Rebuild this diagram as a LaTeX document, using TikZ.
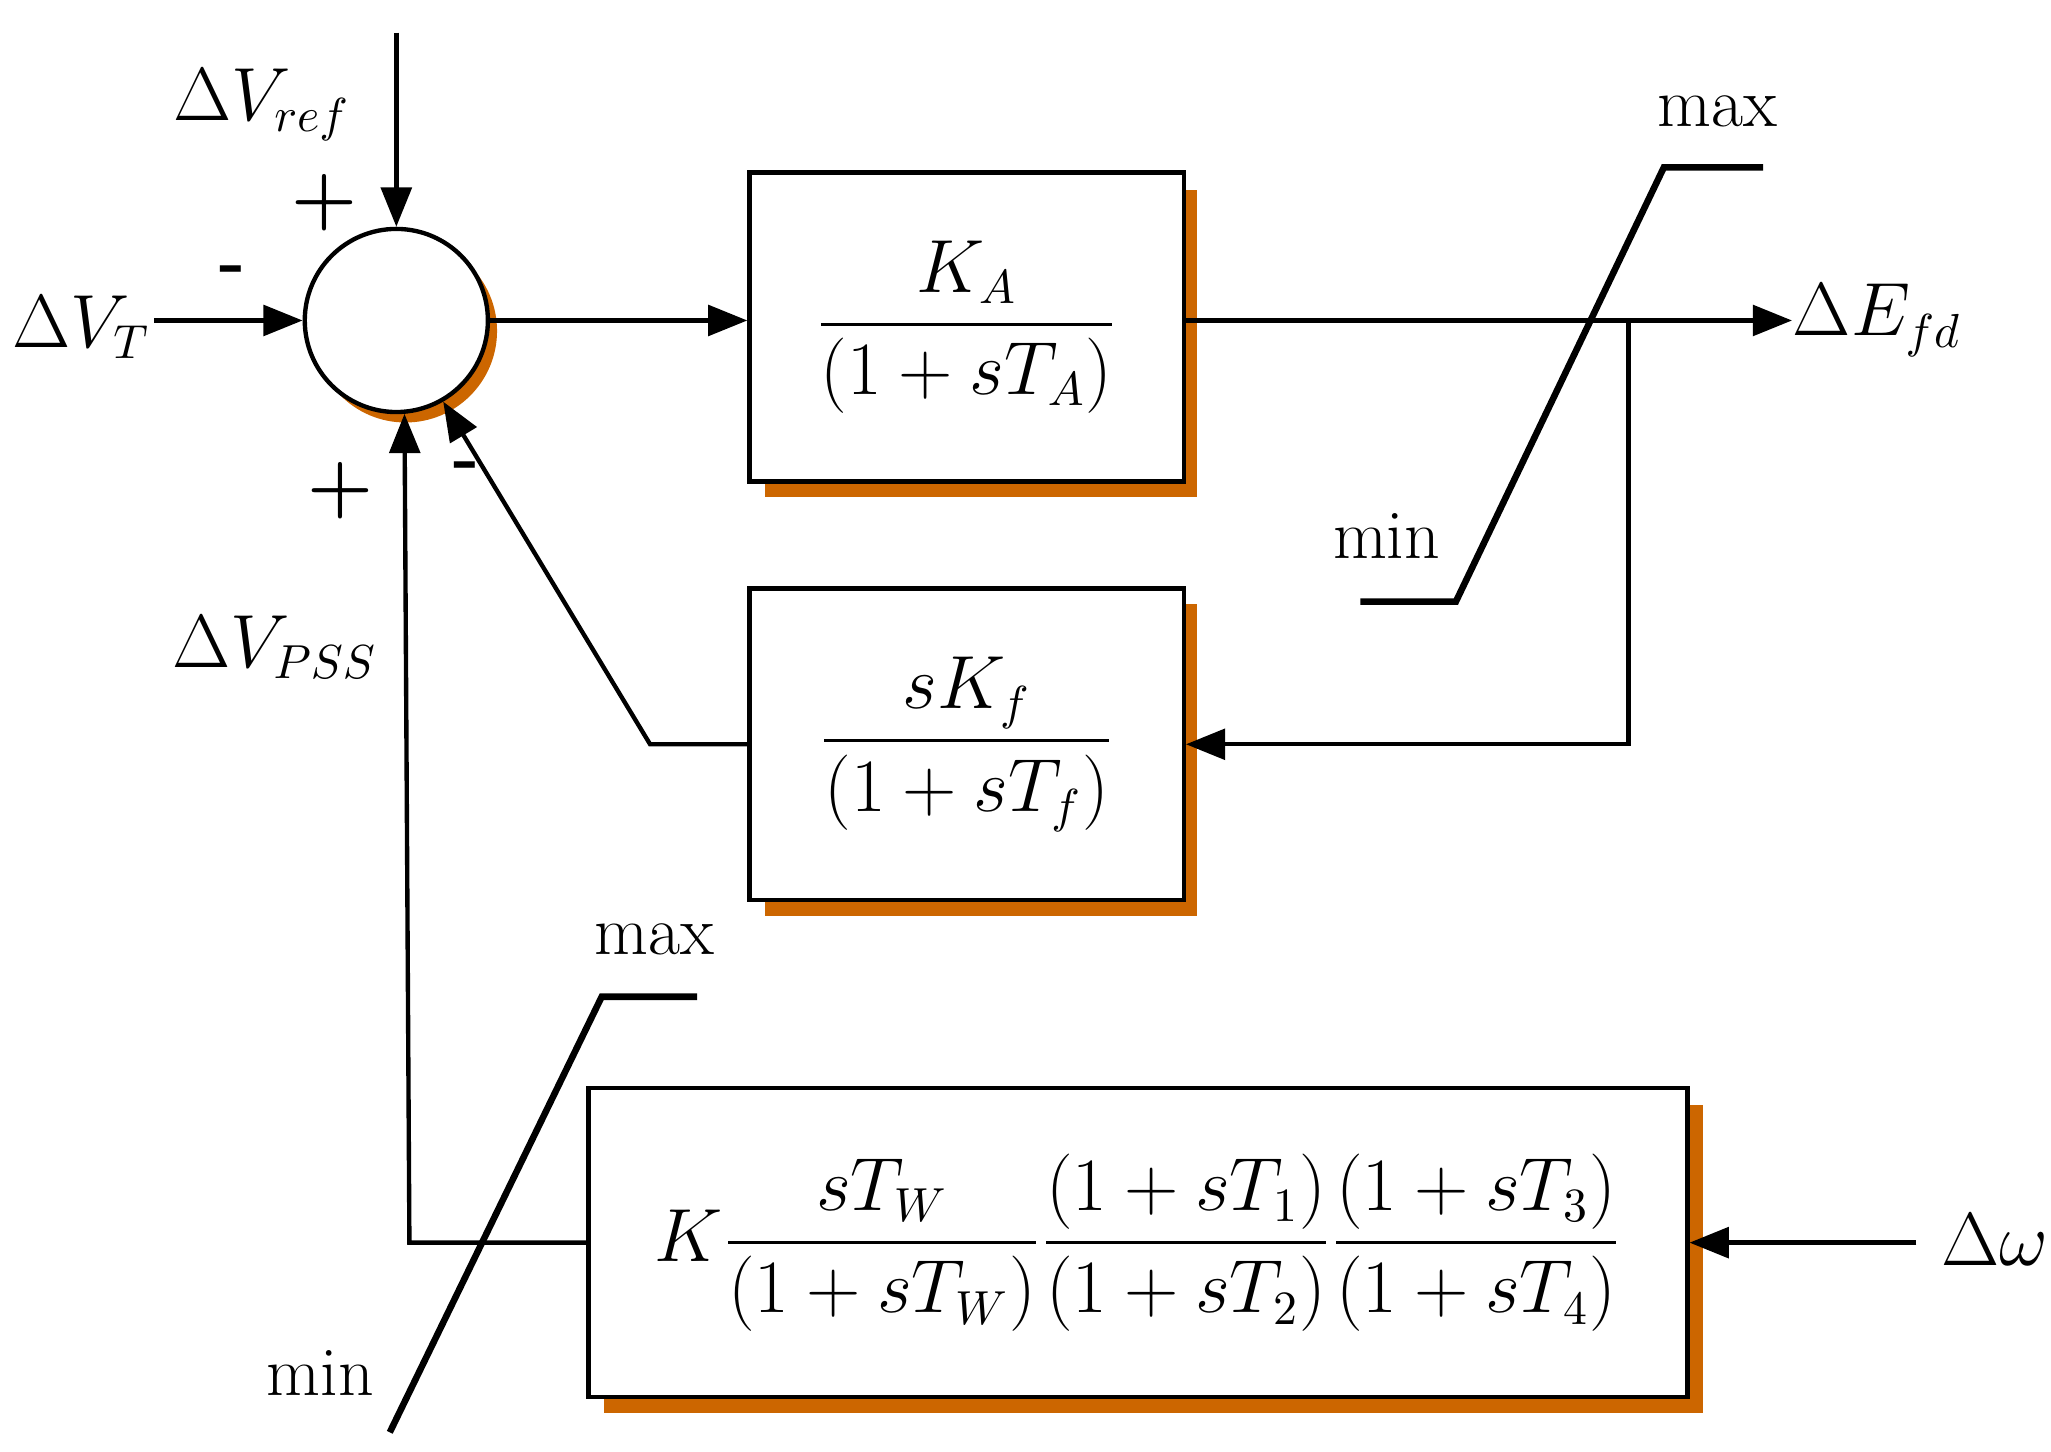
\documentclass[tikz,border=0pt]{standalone}
\usepackage{amsmath}
\usetikzlibrary{arrows.meta,positioning}
\tikzset{
  blk/.style={draw=black, line width=1pt, fill=white, inner sep=0pt},
  shd/.style={fill=orange!80!black},
  sig/.style={line width=1pt, -{Triangle[length=9pt,width=7pt]}},
  wire/.style={line width=1pt},
  lbl/.style={inner sep=0pt, font=\fontsize{16}{19}\selectfont},
}
\begin{document}
\begin{tikzpicture}[x=0.3pt, y=-0.3pt]
\useasboundingbox (0,0) rectangle (1568,1110);
% summing junction
\fill[shd] (310,253) circle (70);
\node (sum) [circle, draw, line width=1pt, fill=white, minimum size=42pt, inner sep=0pt] at (303,245) {};
% blocks with shadows
\fill[shd] (585,145) rectangle (915,380);
\node (ka) [blk, minimum width=99.6pt, minimum height=70.8pt] at (739,250) {};
\node [lbl] at (ka) {$\dfrac{K_A}{(1+sT_A)}$};
\fill[shd] (585,462) rectangle (915,700);
\node (kf) [blk, minimum width=99.6pt, minimum height=71.4pt] at (739,569) {};
\node [lbl] at (kf) {$\dfrac{sK_f}{\left(1+sT_f\right)}$};
\fill[shd] (462,845) rectangle (1302,1080);
\node (pss) [blk, minimum width=252pt, minimum height=70.8pt] at (870,950) {};
\node [lbl] at (pss) {$K\dfrac{sT_W}{(1+sT_W)}\dfrac{(1+sT_1)}{(1+sT_2)}\dfrac{(1+sT_3)}{(1+sT_4)}$};
% coordinates
\coordinate (ref) at (303,25);
\coordinate (vt) at (118,245);
\coordinate (out) at (1370,245);
\coordinate (br) at (1245,245);
\coordinate (brd) at (1245,569);
\coordinate (fb) at (497,569);
\coordinate (w) at (1465,950);
\coordinate (pl) at (313,950);
% labels
\node [lbl] at (200,80) {$\Delta V_{ref}$};
\node [lbl] at (62,250) {$\Delta V_T$};
\node [lbl] at (1435,245) {$\Delta E_{fd}$};
\node [lbl] at (210,495) {$\Delta V_{PSS}$};
\node [lbl] at (1525,948) {$\Delta\omega$};
\node [lbl] at (248,155) {$\boldsymbol{+}$};
\node [lbl] at (178,210) {\textbf{-}};
\node [lbl] at (260,375) {$\boldsymbol{+}$};
\node [lbl] at (357,360) {\textbf{-}};
\node [lbl] at (1313,85) {max};
\node [lbl] at (1060,410) {min};
\node [lbl] at (500,718) {max};
\node [lbl] at (245,1050) {min};
% connectors
\draw [sig] (ref) -- (sum.north);
\draw [sig] (vt) -- (sum.west);
\draw [sig] (sum.east) -- (sum.east -| ka.west);
\draw [sig] (ka.east |- out) -- (out);
\draw [sig] (br) -- (brd) -- (kf.east);
\draw [sig] (kf.west) -- (fb) -- (sum.-60);
\draw [sig] (w) -- (pss.east);
\draw [sig] (pss.west) -- (pl) -- (sum.-85);
% limiters
\draw [line width=1.5pt] (1040,460) -- (1113,460) -- (1272,128) -- (1348,128);
\draw [line width=1.5pt] (298,1095) -- (460,762) -- (533,762);
\end{tikzpicture}
\end{document}
